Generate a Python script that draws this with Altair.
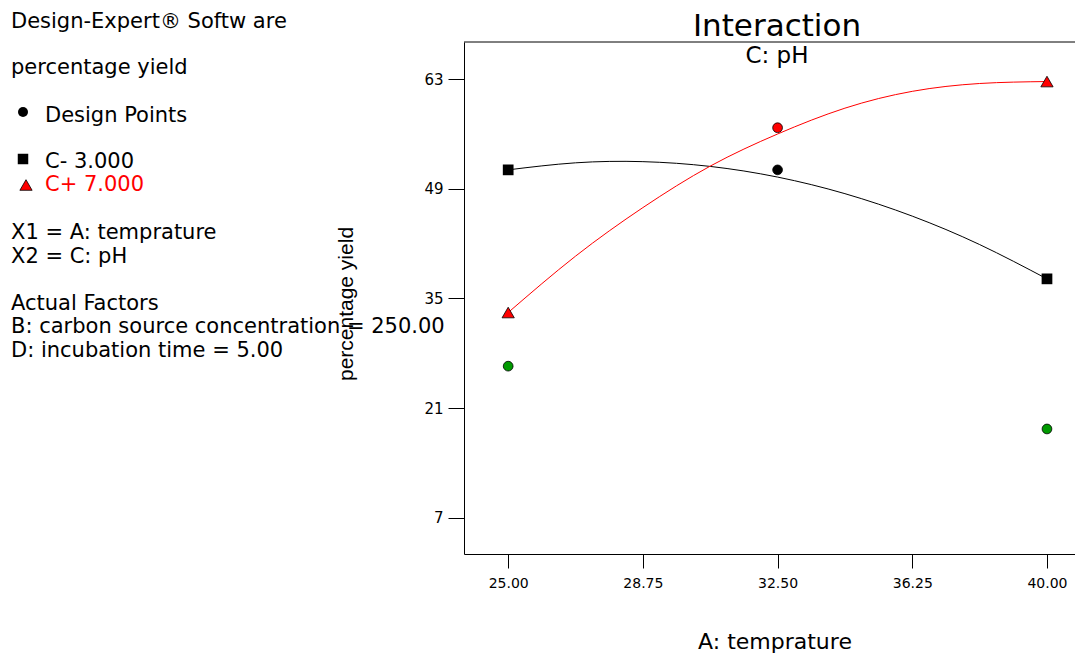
import altair as alt
import pandas as pd

# ---- data ----
temp_grid = [25.0, 26.875, 28.75, 30.625, 32.5, 34.375, 36.25, 38.125, 40.0]
yield_c_minus = [51.42, 52.32, 52.47, 51.86, 50.5, 48.38, 45.51, 41.88, 37.5]
yield_c_plus = [33.2, 40.4, 46.6, 51.9, 56.0, 59.3, 61.45, 62.45, 62.7]
level_names = ["C- 3.000", "C+ 7.000"]

dp_temp = [32.5, 32.5, 25.0, 40.0]
dp_yield = [51.42, 56.8, 26.35, 18.33]
dp_group = ["black", "red", "green", "green"]

x_ticks = [25.0, 28.75, 32.5, 36.25, 40.0]
y_ticks = [7, 21, 35, 49, 63]

legend_lines = [
    "Design-Expert\u00ae Softw are",
    "percentage yield",
    "Design Points",
    "C- 3.000",
    "C+ 7.000",
    "X1 = A: temprature",
    "X2 = C: pH",
    "Actual Factors",
    "B: carbon source concentration = 250.00",
    "D: incubation time = 5.00",
]

# ---- tables ----
curve_df = pd.DataFrame({
    "temp": temp_grid * 2,
    "yield": yield_c_minus + yield_c_plus,
    "level": [level_names[0]] * len(temp_grid) + [level_names[1]] * len(temp_grid),
})
end_df = curve_df[curve_df["temp"].isin([temp_grid[0], temp_grid[-1]])]
dp_df = pd.DataFrame({"temp": dp_temp, "yield": dp_yield, "grp": dp_group})

W, H = 611, 512
FONT = "DejaVu Sans"

xs = alt.Scale(domain=[23.77, 40.78], nice=False, zero=False)
ys = alt.Scale(domain=[2.36, 67.75], nice=False, zero=False)

x_axis = alt.Axis(values=x_ticks, format=".2f", title=None, grid=False,
                  tickSize=14, labelPadding=8, labelFont=FONT, labelFontSize=14,
                  labelColor="black", domainColor="black", tickColor="black",
                  labelFlush=False, labelOverlap=False)
y_axis = alt.Axis(values=y_ticks, format="d", title=None, grid=False,
                  tickSize=16, labelPadding=5, labelFont=FONT, labelFontSize=15,
                  labelColor="black", domainColor="black", tickColor="black")

color_scale = alt.Scale(domain=level_names, range=["black", "red"])

curves = alt.Chart(curve_df).mark_line(interpolate="natural", strokeWidth=1).encode(
    x=alt.X("temp:Q", scale=xs, axis=x_axis),
    y=alt.Y("yield:Q", scale=ys, axis=y_axis),
    color=alt.Color("level:N", scale=color_scale, legend=None),
)

squares = alt.Chart(end_df[end_df["level"] == level_names[0]]).mark_point(
    shape="square", filled=True, size=115, color="black", opacity=1
).encode(x=alt.X("temp:Q", scale=xs), y=alt.Y("yield:Q", scale=ys))

triangles = alt.Chart(end_df[end_df["level"] == level_names[1]]).mark_point(
    shape="triangle-up", filled=True, size=150, fill="red", stroke="black",
    strokeWidth=0.8, opacity=1
).encode(x=alt.X("temp:Q", scale=xs), y=alt.Y("yield:Q", scale=ys))

dots = alt.Chart(dp_df).mark_point(
    shape="circle", filled=True, size=95, stroke="black", strokeWidth=0.8, opacity=1
).encode(
    x=alt.X("temp:Q", scale=xs),
    y=alt.Y("yield:Q", scale=ys),
    fill=alt.Fill("grp:N", scale=alt.Scale(domain=["black", "red", "green"],
                                            range=["black", "#ff0000", "#009a00"]),
                  legend=None),
)

top_border = alt.Chart().mark_rule(color="black", strokeWidth=1).encode(
    x=alt.value(0), x2=alt.value(W), y=alt.value(0)
)

def txt(s, x, y, size, color="black", align="left", font=FONT, angle=None, baseline="alphabetic"):
    kw = dict(text=s, fontSize=size, color=color, align=align, font=font, baseline=baseline)
    if angle is not None:
        kw["angle"] = angle
    return alt.Chart().mark_text(**kw).encode(x=alt.value(x), y=alt.value(y))

OX, OY = 464, 42  # page position of plot origin
layers = [curves, squares, triangles, dots, top_border]

layers.append(txt("Interaction", 777 - OX, 36 - OY, 31, align="center"))
layers.append(txt("C: pH", 777 - OX, 63 - OY, 23, align="center"))
layers.append(txt("A: temprature", 775 - OX, 649 - OY, 22, align="center"))
layers.append(txt("percentage yield", 347 - OX, 304 - OY, 21, align="center",
                  font="Liberation Sans", angle=270, baseline="middle"))

leg_pos = [(11, 28), (11, 74), (45, 122), (45, 168), (45, 191),
           (11, 239), (11, 263), (11, 310), (11, 333), (11, 357)]
for i, (s, (px, py)) in enumerate(zip(legend_lines, leg_pos)):
    layers.append(txt(s, px - OX, py - OY, 21, color="red" if i == 4 else "black"))

layers.append(alt.Chart().mark_point(shape="circle", filled=True, size=100, color="black", opacity=1)
              .encode(x=alt.value(23 - OX), y=alt.value(112 - OY)))
layers.append(alt.Chart().mark_point(shape="square", filled=True, size=110, color="black", opacity=1)
              .encode(x=alt.value(23 - OX), y=alt.value(159 - OY)))
layers.append(alt.Chart().mark_point(shape="triangle-up", filled=True, size=150, fill="red",
                                     stroke="black", strokeWidth=0.8, opacity=1)
              .encode(x=alt.value(26 - OX), y=alt.value(185 - OY)))

chart = alt.layer(*layers).properties(
    width=W, height=H,
    autosize=alt.AutoSizeParams(type="none"),
    padding={"left": 456, "top": 34, "right": 0, "bottom": 101},
    background="white",
).configure_view(stroke=None)

chart.save("out.html", embed_options={"renderer": "svg", "actions": False})
